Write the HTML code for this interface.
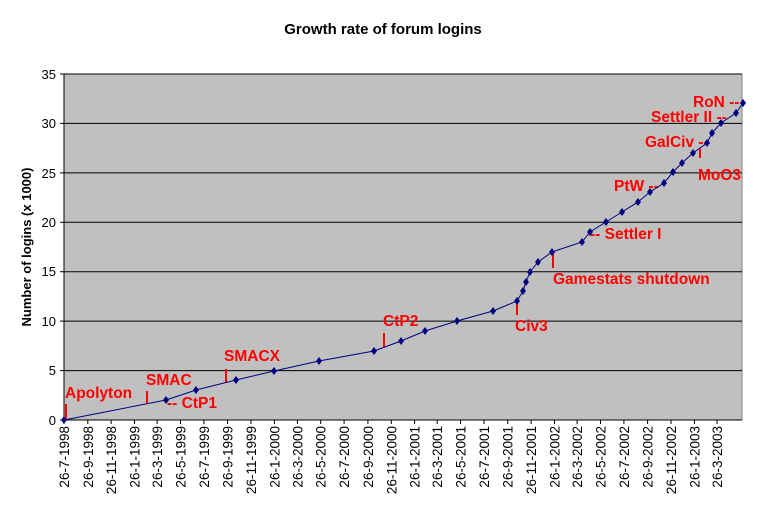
<!DOCTYPE html>
<html><head><meta charset="utf-8"><style>
html,body{margin:0;padding:0;background:#fff;}
svg{display:block;font-family:"Liberation Sans",Arial,sans-serif;}
.t{font-size:13px;fill:#000;}
.x{font-size:13.5px;fill:#000;}
.r{font-size:15.5px;font-weight:bold;fill:#f00;}
</style></head><body>
<svg width="766" height="509" viewBox="0 0 766 509" xmlns="http://www.w3.org/2000/svg">
<rect width="766" height="509" fill="#fff"/>
<text x="383" y="34" text-anchor="middle" font-size="15" font-weight="bold">Growth rate of forum logins</text>
<rect x="64" y="74" width="678" height="346" fill="#c0c0c0" stroke="#808080" stroke-width="1"/>
<g stroke="#000" stroke-width="1">
<line x1="64" y1="370.6" x2="742" y2="370.6"/>
<line x1="64" y1="321.1" x2="742" y2="321.1"/>
<line x1="64" y1="271.7" x2="742" y2="271.7"/>
<line x1="64" y1="222.3" x2="742" y2="222.3"/>
<line x1="64" y1="172.9" x2="742" y2="172.9"/>
<line x1="64" y1="123.4" x2="742" y2="123.4"/>
<line x1="64" y1="74" x2="742" y2="74"/>
<line x1="64" y1="74" x2="64" y2="420"/>
<line x1="64" y1="420" x2="742" y2="420"/>
<line x1="60" y1="420" x2="64" y2="420"/><line x1="60" y1="370.6" x2="64" y2="370.6"/><line x1="60" y1="321.1" x2="64" y2="321.1"/><line x1="60" y1="271.7" x2="64" y2="271.7"/><line x1="60" y1="222.3" x2="64" y2="222.3"/><line x1="60" y1="172.9" x2="64" y2="172.9"/><line x1="60" y1="123.4" x2="64" y2="123.4"/><line x1="60" y1="74" x2="64" y2="74"/>
</g>
<g class="t" text-anchor="end">
<text x="56" y="425">0</text><text x="56" y="375">5</text><text x="56" y="326">10</text><text x="56" y="276">15</text><text x="56" y="227">20</text><text x="56" y="178">25</text><text x="56" y="128">30</text><text x="56" y="79">35</text>
</g>
<text transform="translate(31,247) rotate(-90)" text-anchor="middle" font-size="13" font-weight="bold">Number of logins (x 1000)</text>
<g stroke="#000">
<line x1="64" y1="420" x2="64" y2="424"/><line x1="87.8" y1="420" x2="87.8" y2="424"/><line x1="111.1" y1="420" x2="111.1" y2="424"/><line x1="134.5" y1="420" x2="134.5" y2="424"/><line x1="157.1" y1="420" x2="157.1" y2="424"/><line x1="180.5" y1="420" x2="180.5" y2="424"/><line x1="203.9" y1="420" x2="203.9" y2="424"/><line x1="227.6" y1="420" x2="227.6" y2="424"/><line x1="251" y1="420" x2="251" y2="424"/><line x1="274.4" y1="420" x2="274.4" y2="424"/><line x1="297.4" y1="420" x2="297.4" y2="424"/><line x1="320.7" y1="420" x2="320.7" y2="424"/><line x1="344.1" y1="420" x2="344.1" y2="424"/><line x1="367.9" y1="420" x2="367.9" y2="424"/><line x1="391.3" y1="420" x2="391.3" y2="424"/><line x1="414.6" y1="420" x2="414.6" y2="424"/><line x1="437.2" y1="420" x2="437.2" y2="424"/><line x1="460.6" y1="420" x2="460.6" y2="424"/><line x1="484" y1="420" x2="484" y2="424"/><line x1="507.7" y1="420" x2="507.7" y2="424"/><line x1="531.1" y1="420" x2="531.1" y2="424"/><line x1="554.5" y1="420" x2="554.5" y2="424"/><line x1="577.1" y1="420" x2="577.1" y2="424"/><line x1="600.5" y1="420" x2="600.5" y2="424"/><line x1="623.9" y1="420" x2="623.9" y2="424"/><line x1="647.6" y1="420" x2="647.6" y2="424"/><line x1="671" y1="420" x2="671" y2="424"/><line x1="694.4" y1="420" x2="694.4" y2="424"/><line x1="717" y1="420" x2="717" y2="424"/>
</g>
<g class="x" text-anchor="end">
<text transform="translate(69,426) rotate(-90)">26-7-1998</text>
<text transform="translate(92.8,426) rotate(-90)">26-9-1998</text>
<text transform="translate(116.1,426) rotate(-90)">26-11-1998</text>
<text transform="translate(139.5,426) rotate(-90)">26-1-1999</text>
<text transform="translate(162.1,426) rotate(-90)">26-3-1999</text>
<text transform="translate(185.5,426) rotate(-90)">26-5-1999</text>
<text transform="translate(208.9,426) rotate(-90)">26-7-1999</text>
<text transform="translate(232.6,426) rotate(-90)">26-9-1999</text>
<text transform="translate(256,426) rotate(-90)">26-11-1999</text>
<text transform="translate(279.4,426) rotate(-90)">26-1-2000</text>
<text transform="translate(302.4,426) rotate(-90)">26-3-2000</text>
<text transform="translate(325.7,426) rotate(-90)">26-5-2000</text>
<text transform="translate(349.1,426) rotate(-90)">26-7-2000</text>
<text transform="translate(372.9,426) rotate(-90)">26-9-2000</text>
<text transform="translate(396.3,426) rotate(-90)">26-11-2000</text>
<text transform="translate(419.6,426) rotate(-90)">26-1-2001</text>
<text transform="translate(442.2,426) rotate(-90)">26-3-2001</text>
<text transform="translate(465.6,426) rotate(-90)">26-5-2001</text>
<text transform="translate(489,426) rotate(-90)">26-7-2001</text>
<text transform="translate(512.7,426) rotate(-90)">26-9-2001</text>
<text transform="translate(536.1,426) rotate(-90)">26-11-2001</text>
<text transform="translate(559.5,426) rotate(-90)">26-1-2002</text>
<text transform="translate(582.1,426) rotate(-90)">26-3-2002</text>
<text transform="translate(605.5,426) rotate(-90)">26-5-2002</text>
<text transform="translate(628.9,426) rotate(-90)">26-7-2002</text>
<text transform="translate(652.6,426) rotate(-90)">26-9-2002</text>
<text transform="translate(676,426) rotate(-90)">26-11-2002</text>
<text transform="translate(699.4,426) rotate(-90)">26-1-2003</text>
<text transform="translate(722,426) rotate(-90)">26-3-2003</text>
</g>
<!-- annotations -->
<g stroke="#f00" stroke-width="2">
<line x1="66" y1="404" x2="66" y2="420"/>
<line x1="147" y1="391" x2="147" y2="404"/>
<line x1="226" y1="369" x2="226" y2="383"/>
<line x1="384" y1="333" x2="384" y2="347"/>
<line x1="517" y1="300" x2="517" y2="315"/>
<line x1="553" y1="252" x2="553" y2="268"/>
<line x1="700" y1="148" x2="700" y2="158"/>
</g>
<g class="r">
<text x="65" y="398">Apolyton</text>
<text x="146" y="385">SMAC</text>
<text x="167" y="408">-- CtP1</text>
<text x="224" y="361">SMACX</text>
<text x="383" y="326">CtP2</text>
<text x="515" y="331">Civ3</text>
<text x="553" y="284">Gamestats shutdown</text>
<text x="590" y="239">-- Settler I</text>
<text x="614" y="191">PtW --</text>
<text x="645" y="147">GalCiv --</text>
<text x="698" y="180">MoO3</text>
<text x="651" y="122">Settler II --</text>
<text x="693" y="107">RoN --</text>
</g>
<polyline fill="none" stroke="#000080" stroke-width="1" points="64,420 166,400 196,390 236,380 274,371 319,361 374,351 401,341 425,331 457,321 493,311 517,301 523,291 526,282 530,272 538,262 552,252 582,242 590,232 606,222 622,212 638,202 650,192 664,183 673,172 682,163 693,153 707,143 712,133 721,123 736,113 743,103"/>
<g fill="#000080">
<path d="M64,416l3,4l-3,4l-3,-4z"/><path d="M166,396l3,4l-3,4l-3,-4z"/><path d="M196,386l3,4l-3,4l-3,-4z"/><path d="M236,376l3,4l-3,4l-3,-4z"/><path d="M274,367l3,4l-3,4l-3,-4z"/><path d="M319,357l3,4l-3,4l-3,-4z"/><path d="M374,347l3,4l-3,4l-3,-4z"/><path d="M401,337l3,4l-3,4l-3,-4z"/><path d="M425,327l3,4l-3,4l-3,-4z"/><path d="M457,317l3,4l-3,4l-3,-4z"/><path d="M493,307l3,4l-3,4l-3,-4z"/><path d="M517,297l3,4l-3,4l-3,-4z"/><path d="M523,287l3,4l-3,4l-3,-4z"/><path d="M526,278l3,4l-3,4l-3,-4z"/><path d="M530,268l3,4l-3,4l-3,-4z"/><path d="M538,258l3,4l-3,4l-3,-4z"/><path d="M552,248l3,4l-3,4l-3,-4z"/><path d="M582,238l3,4l-3,4l-3,-4z"/><path d="M590,228l3,4l-3,4l-3,-4z"/><path d="M606,218l3,4l-3,4l-3,-4z"/><path d="M622,208l3,4l-3,4l-3,-4z"/><path d="M638,198l3,4l-3,4l-3,-4z"/><path d="M650,188l3,4l-3,4l-3,-4z"/><path d="M664,179l3,4l-3,4l-3,-4z"/><path d="M673,168l3,4l-3,4l-3,-4z"/><path d="M682,159l3,4l-3,4l-3,-4z"/><path d="M693,149l3,4l-3,4l-3,-4z"/><path d="M707,139l3,4l-3,4l-3,-4z"/><path d="M712,129l3,4l-3,4l-3,-4z"/><path d="M721,119l3,4l-3,4l-3,-4z"/><path d="M736,109l3,4l-3,4l-3,-4z"/><path d="M743,99l3,4l-3,4l-3,-4z"/>
</g>
</svg>
</body></html>
